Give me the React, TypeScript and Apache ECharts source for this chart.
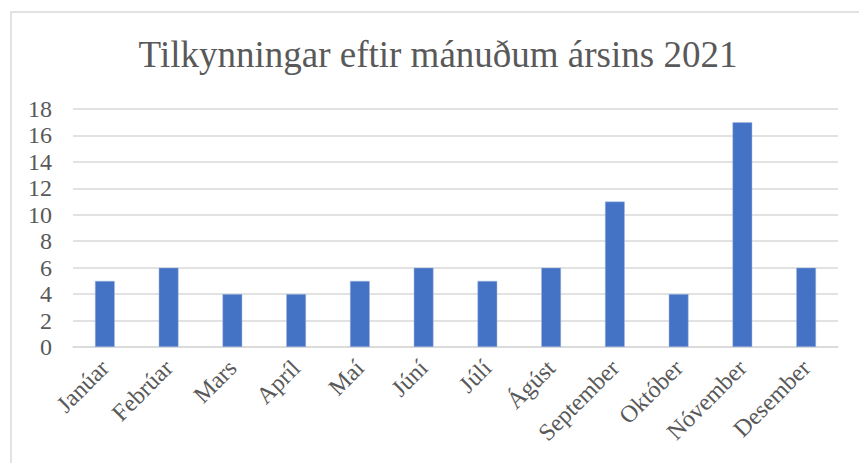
import React, { useEffect, useRef } from "react";
import * as echarts from "echarts";

const TITLE = "Tilkynningar eftir mánuðum ársins 2021";
const months = ["Janúar", "Febrúar", "Mars", "Apríl", "Maí", "Júní", "Júlí", "Ágúst", "September", "Október", "Nóvember", "Desember"];
const counts = [5, 6, 4, 4, 5, 6, 5, 6, 11, 4, 17, 6];
const yTicks = { min: 0, max: 18, interval: 2 };

const FONT = "Liberation Serif, Times New Roman, serif";
const TEXT = "#595959";
const GRID = "#d9d9d9";

export default function App() {
  const ref = useRef<HTMLDivElement>(null);
  useEffect(() => {
    document.body.style.margin = "0";
    const chart = echarts.init(ref.current!, null, { renderer: "svg" });
    chart.setOption({
      animation: false,
      backgroundColor: "#ffffff",
      textStyle: { fontFamily: FONT },
      graphic: [
        {
          type: "rect",
          shape: { x: 11, y: 12, width: 1000, height: 1000 },
          style: { fill: "none", stroke: GRID, lineWidth: 1.5 },
          silent: true,
        },
        {
          type: "text",
          x: 438,
          y: 54.5,
          silent: true,
          style: {
            text: TITLE,
            fill: TEXT,
            fontFamily: "Liberation Serif",
            fontSize: 37,
            align: "center",
            verticalAlign: "middle",
          },
        },
      ],
      grid: { left: 73, right: 21, top: 109, bottom: 116, containLabel: false },
      xAxis: {
        type: "category",
        data: months,
        axisLine: { show: true, lineStyle: { color: GRID, width: 1.5 } },
        axisTick: { show: false },
        axisLabel: { rotate: 45, margin: 17, color: TEXT, fontFamily: FONT, fontSize: 24, interval: 0 },
      },
      yAxis: {
        type: "value",
        min: yTicks.min,
        max: yTicks.max,
        interval: yTicks.interval,
        axisLine: { show: false },
        axisTick: { show: false },
        splitLine: { lineStyle: { color: GRID, width: 1.5 } },
        axisLabel: { margin: 21, color: TEXT, fontFamily: FONT, fontSize: 24 },
      },
      series: [
        {
          type: "bar",
          data: counts,
          barWidth: "31%",
          itemStyle: { color: "#4472C4", borderColor: "#a9bde3", borderWidth: 0.5 },
        },
      ],
    });
    return () => chart.dispose();
  }, []);
  return <div ref={ref} style={{ position: "fixed", left: 0, top: 0, width: 859, height: 463 }} />;
}
